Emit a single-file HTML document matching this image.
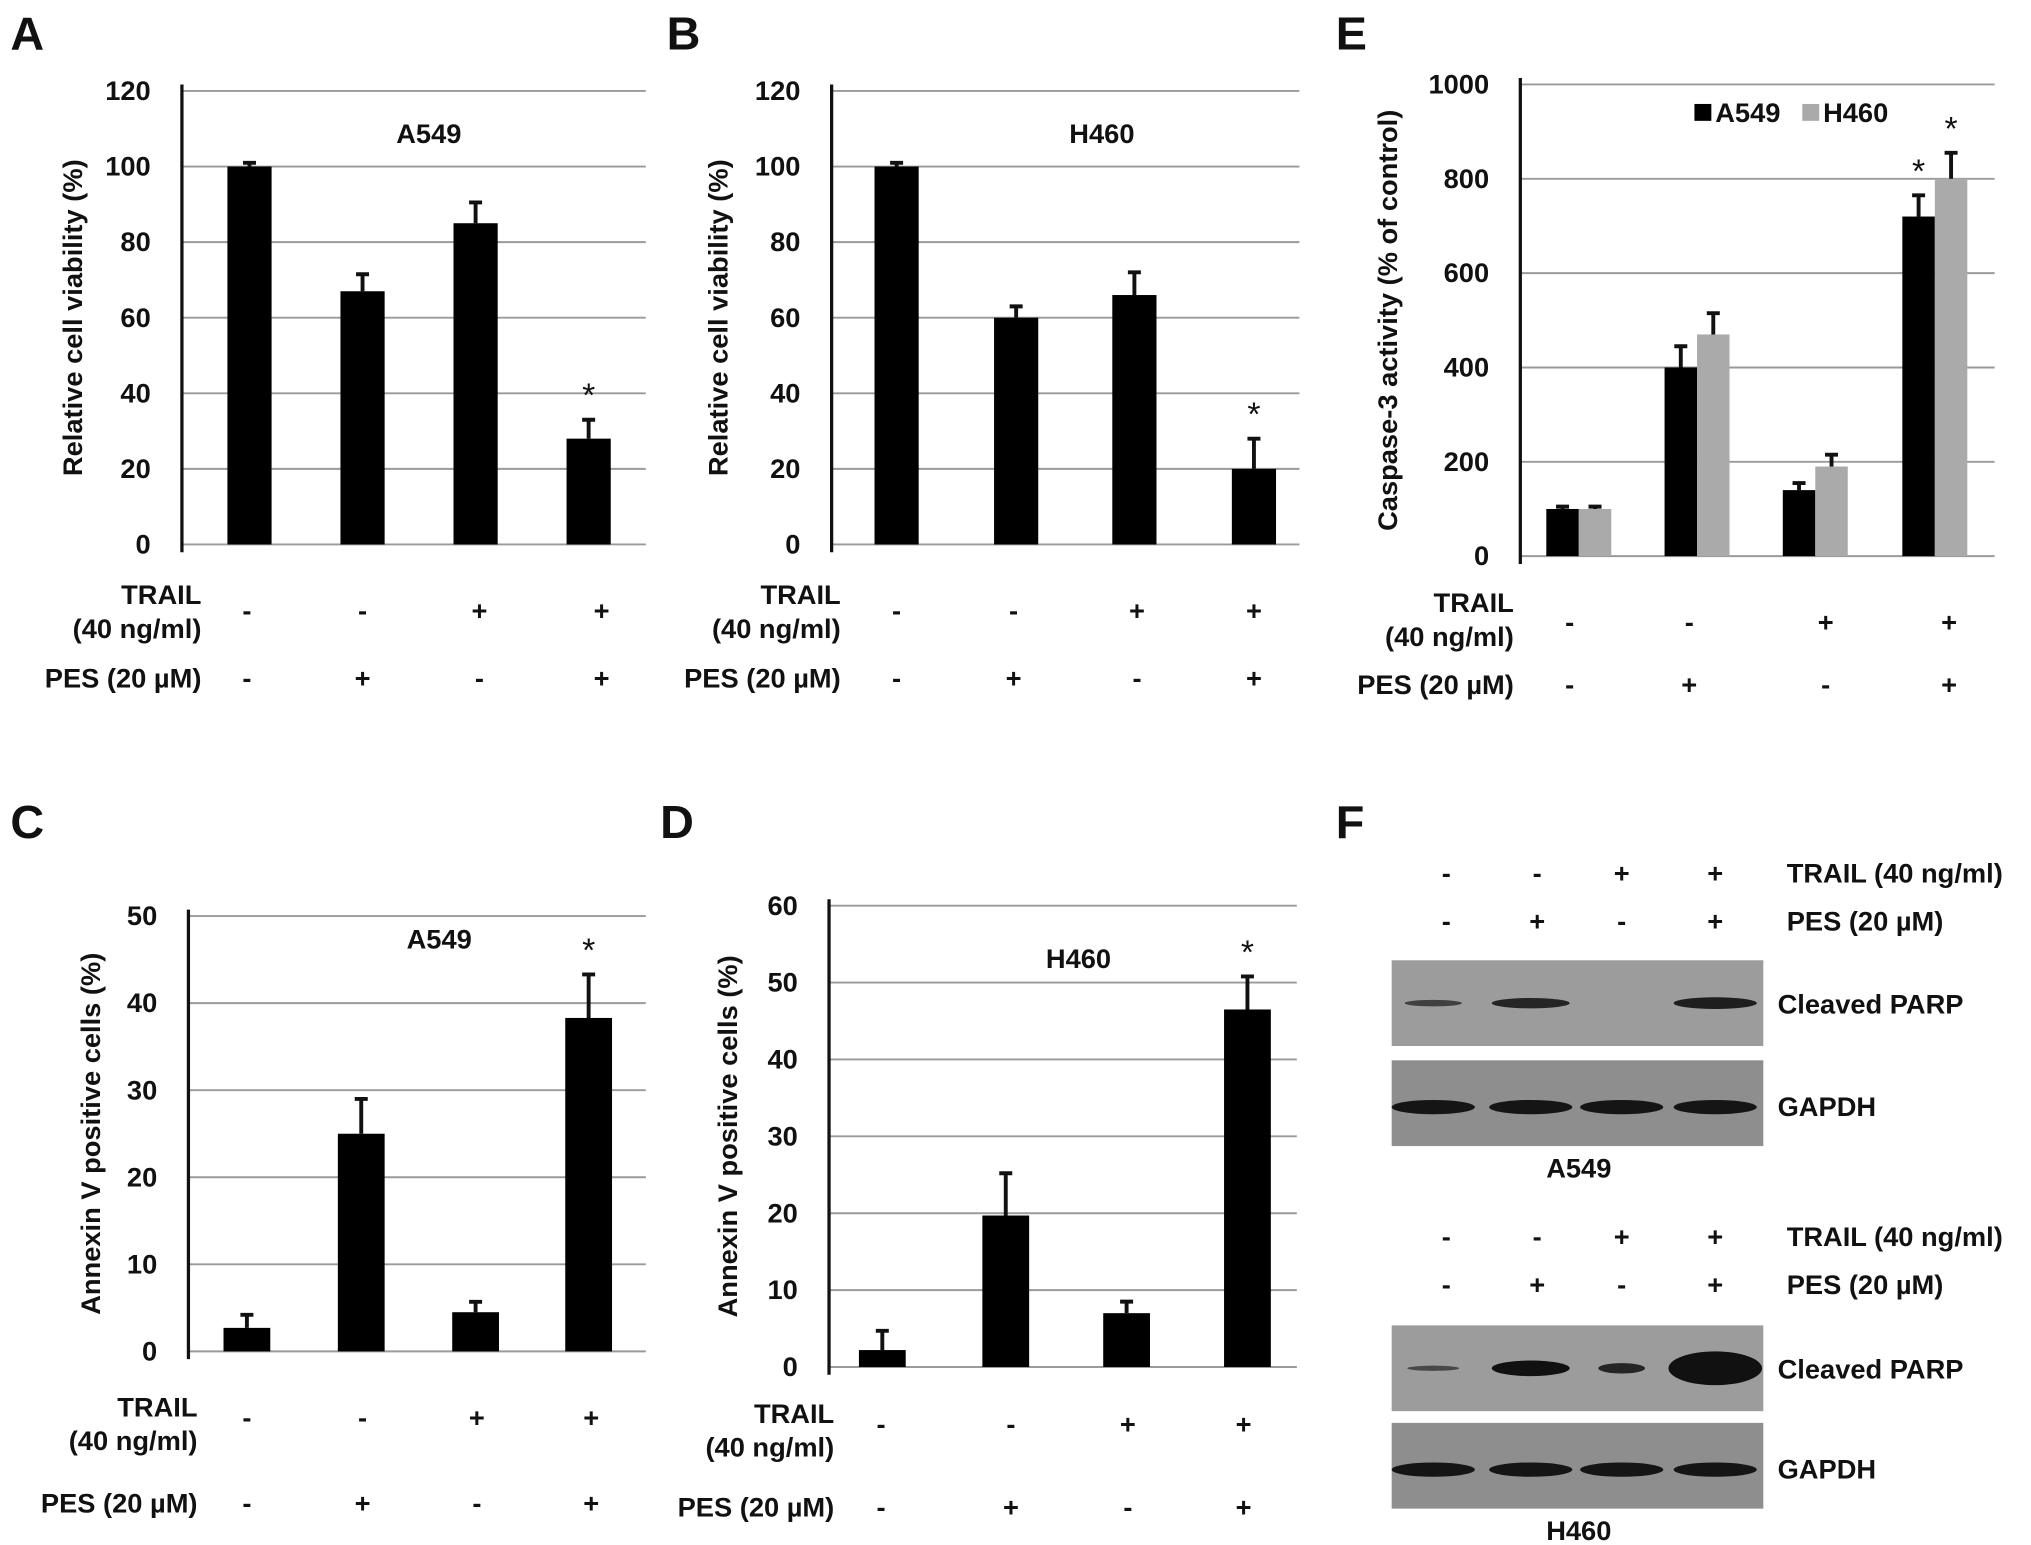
<!DOCTYPE html>
<html><head><meta charset="utf-8"><style>
html,body{margin:0;padding:0;background:#fff;}
svg{display:block;font-family:"Liberation Sans",Arial,sans-serif;font-weight:bold;}
</style></head><body>
<svg id="fig" width="2031" height="1545" viewBox="0 0 1563 1189" xmlns="http://www.w3.org/2000/svg"></svg>
<script>
const NS="http://www.w3.org/2000/svg";
const svg=document.getElementById('fig');
function el(tag,attrs,parent,txt){const e=document.createElementNS(NS,tag);for(const k in attrs)e.setAttribute(k,attrs[k]);if(txt!==undefined)e.textContent=txt;(parent||svg).appendChild(e);return e;}

// ---- data ----
const trailSigns=["-","-","+","+"];
const pesSigns=["-","+","-","+"];
const aValues=[100,67,85,28];
const aErrors=[1,4.5,5.5,5];
const aTicks=[0,20,40,60,80,100,120];
const bValues=[100,60,66,20];
const bErrors=[1,3,6,8];
const bTicks=[0,20,40,60,80,100,120];
const cValues=[2.7,25,4.5,38.3];
const cErrors=[1.5,4,1.2,5];
const cTicks=[0,10,20,30,40,50];
const dValues=[2.2,19.7,7,46.5];
const dErrors=[2.5,5.5,1.5,4.3];
const dTicks=[0,10,20,30,40,50,60];
const eA549=[100,400,140,720];
const eA549Err=[5,45,15,45];
const eH460=[100,470,190,800];
const eH460Err=[5,45,25,55];
const eTicks=[0,200,400,600,800,1000];
const starFlags=[false,false,false,true];

const FS=21;
function panel(cfg){
  const g=el('g',{});  
  const max=cfg.ticks[cfg.ticks.length-1];
  const y=v=>cfg.y0-(v/max)*(cfg.y0-cfg.yTop);
  cfg.ticks.forEach(t=>{
    const yy=y(t);
    if(t>0){const l=el('line',{x1:cfg.ax,x2:cfg.gridEnd,y1:yy,y2:yy,stroke:'#9a9a9a','stroke-width':1.5},g);
      }
    const tx=el('text',{x:cfg.ax-24,y:yy+7,'text-anchor':'end','font-size':FS,fill:'#111'},g,String(t));
    
  });
  const base=el('line',{x1:cfg.ax,x2:cfg.gridEnd,y1:cfg.y0,y2:cfg.y0,stroke:'#9a9a9a','stroke-width':1.5},g);
  
  const ax=el('line',{x1:cfg.ax,x2:cfg.ax,y1:cfg.yTop-5,y2:cfg.y0+6,stroke:'#111','stroke-width':2.5},g);
  
  cfg.series.forEach(s=>{
    s.values.forEach((v,i)=>{
      const cx=cfg.xs[i]+s.off;
      const r=el('rect',{x:cx-cfg.bw/2,y:y(v),width:cfg.bw,height:cfg.y0-y(v),fill:s.color},g);
      
      const top=y(v+s.errs[i]);
      const eb=el('path',{d:`M${cx} ${y(v)}V${top}M${cx-5} ${top}H${cx+5}`,stroke:'#111','stroke-width':3,fill:'none'},g);
      
      if(s.star&&s.star[i]){const st=el('text',{x:cx,y:top-10,'text-anchor':'middle','font-size':26,'font-weight':'normal',fill:'#111'},g,'*');
        }
    });
  });
  const yl=el('text',{x:0,y:0,transform:`translate(${cfg.ylx},${(cfg.yTop+cfg.y0)/2}) rotate(-90)`,'text-anchor':'middle','font-size':FS,fill:'#111'},g,cfg.ylabel);
  
  if(cfg.title){const t=el('text',{x:cfg.title[0],y:cfg.title[1],'text-anchor':'middle','font-size':FS,fill:'#111'},g,cfg.title[2]);
    }
  const r=cfg.rows;
  const l1=el('text',{x:r.lx,y:r.t1,'text-anchor':'end','font-size':FS,fill:'#111'},g,'TRAIL');
  
  const l2=el('text',{x:r.lx,y:r.t1+26,'text-anchor':'end','font-size':FS,fill:'#111'},g,'(40 ng/ml)');
  
  const l3=el('text',{x:r.lx,y:r.p,'text-anchor':'end','font-size':FS,fill:'#111'},g,'PES (20 µM)');
  
  trailSigns.forEach((s,i)=>{const t=el('text',{x:r.xs[i],y:r.ts,'text-anchor':'middle','font-size':FS,fill:'#111'},g,s);
    });
  pesSigns.forEach((s,i)=>{const t=el('text',{x:r.xs[i],y:r.p,'text-anchor':'middle','font-size':FS,fill:'#111'},g,s);
    });
  const L=el('text',{x:cfg.letter[0],y:cfg.letter[1],'font-size':36,fill:'#111'},g,cfg.letter[2]);
  
}

panel({name:'panel-a',ax:140,gridEnd:497,yTop:70,y0:419,ticks:aTicks,xs:[192,279,366,453],bw:34,
  series:[{key:'a549',values:aValues,errs:aErrors,color:'#000',off:0,star:starFlags}],
  ylabel:'Relative cell viability (%)',ylx:63,title:[330,110,'A549'],
  rows:{lx:155,t1:465,ts:477,p:529,xs:[190,279,369,463]},letter:[8,38,'A']});
panel({name:'panel-b',ax:640,gridEnd:1000,yTop:70,y0:419,ticks:bTicks,xs:[690,782,873,965],bw:34,
  series:[{key:'h460',values:bValues,errs:bErrors,color:'#000',off:0,star:starFlags}],
  ylabel:'Relative cell viability (%)',ylx:560,title:[848,110,'H460'],
  rows:{lx:647,t1:465,ts:477,p:529,xs:[690,780,875,965]},letter:[513,38,'B']});
panel({name:'panel-c',ax:145,gridEnd:497,yTop:705,y0:1040,ticks:cTicks,xs:[190,278,366,453],bw:36,
  series:[{key:'a549',values:cValues,errs:cErrors,color:'#000',off:0,star:starFlags}],
  ylabel:'Annexin V positive cells (%)',ylx:77,title:[338,730,'A549'],
  rows:{lx:152,t1:1090,ts:1098,p:1164,xs:[190,279,367,455]},letter:[8,645,'C']});
panel({name:'panel-d',ax:638,gridEnd:998,yTop:697,y0:1052,ticks:dTicks,xs:[679,774,867,960],bw:36,
  series:[{key:'h460',values:dValues,errs:dErrors,color:'#000',off:0,star:starFlags}],
  ylabel:'Annexin V positive cells (%)',ylx:567,title:[830,745,'H460'],
  rows:{lx:642,t1:1095,ts:1103,p:1167,xs:[678,778,868,957]},letter:[508,645,'D']});
panel({name:'panel-e',ax:1170,gridEnd:1535,yTop:65,y0:428,ticks:eTicks,xs:[1215,1306,1397,1489],bw:25,
  series:[{key:'a549',values:eA549,errs:eA549Err,color:'#000',off:-12.5,star:starFlags},
          {key:'h460',values:eH460,errs:eH460Err,color:'#aaa',off:12.5,star:starFlags}],
  ylabel:'Caspase-3 activity (% of control)',ylx:1075,title:null,
  rows:{lx:1165,t1:471,ts:486,p:534,xs:[1208,1300,1405,1500]},letter:[1028,38,'E']});

const lg=el('g',{});
const le1=el('rect',{x:1304,y:80,width:13,height:13,fill:'#000'},lg);
const lt1=el('text',{x:1320,y:94,'font-size':FS,fill:'#111'},lg,'A549');
const le2=el('rect',{x:1387,y:80,width:13,height:13,fill:'#aaa'},lg);
const lt2=el('text',{x:1403,y:94,'font-size':FS,fill:'#111'},lg,'H460');

const fL=el('text',{x:1028,y:645,'font-size':36,fill:'#111'});fL.textContent='F';
const laneX=[1113,1183,1248,1320];
const bandX=[1103,1178,1248,1320];
function blotGroup(name,sy,b1y,b2y,cell,parpW,parpH){
  const g=el('g',{});
  trailSigns.forEach((s,i)=>{const t=el('text',{x:laneX[i],y:sy,'text-anchor':'middle','font-size':FS,fill:'#111'},g,s);});
  pesSigns.forEach((s,i)=>{const t=el('text',{x:laneX[i],y:sy+37,'text-anchor':'middle','font-size':FS,fill:'#111'},g,s);});
  const t1=el('text',{x:1375,y:sy,'font-size':FS,fill:'#111'},g,'TRAIL (40 ng/ml)');
  const t2=el('text',{x:1375,y:sy+37,'font-size':FS,fill:'#111'},g,'PES (20 µM)');
  const r1=el('rect',{x:1071,y:b1y,width:286,height:66,fill:'#9c9c9c'},g);
  parpW.forEach((w,i)=>{if(w>0){const e=el('ellipse',{cx:bandX[i],cy:b1y+33,rx:w,ry:parpH[i],fill:'#111',opacity:Math.min(1,0.35+parpH[i]/8)},g);}});
  const r2=el('rect',{x:1071,y:b2y,width:286,height:66,fill:'#8e8e8e'},g);
  bandX.forEach(x=>{const e=el('ellipse',{cx:x,cy:b2y+36,rx:32,ry:5.5,fill:'#151515'},g);});
  const c1=el('text',{x:1368,y:b1y+41,'font-size':FS,fill:'#111'},g,'Cleaved PARP');
  const c2=el('text',{x:1368,y:b2y+43,'font-size':FS,fill:'#111'},g,'GAPDH');
  const c3=el('text',{x:1215,y:b2y+90,'text-anchor':'middle','font-size':FS,fill:'#111'},g,cell);
}
blotGroup('panel-f-a549',679,739,816,'A549',[22,30,0,32],[2.5,4,0,4.5]);
blotGroup('panel-f-h460',959,1020,1095,'H460',[20,30,18,36],[2,6,4,13]);
</script>
</body></html>
